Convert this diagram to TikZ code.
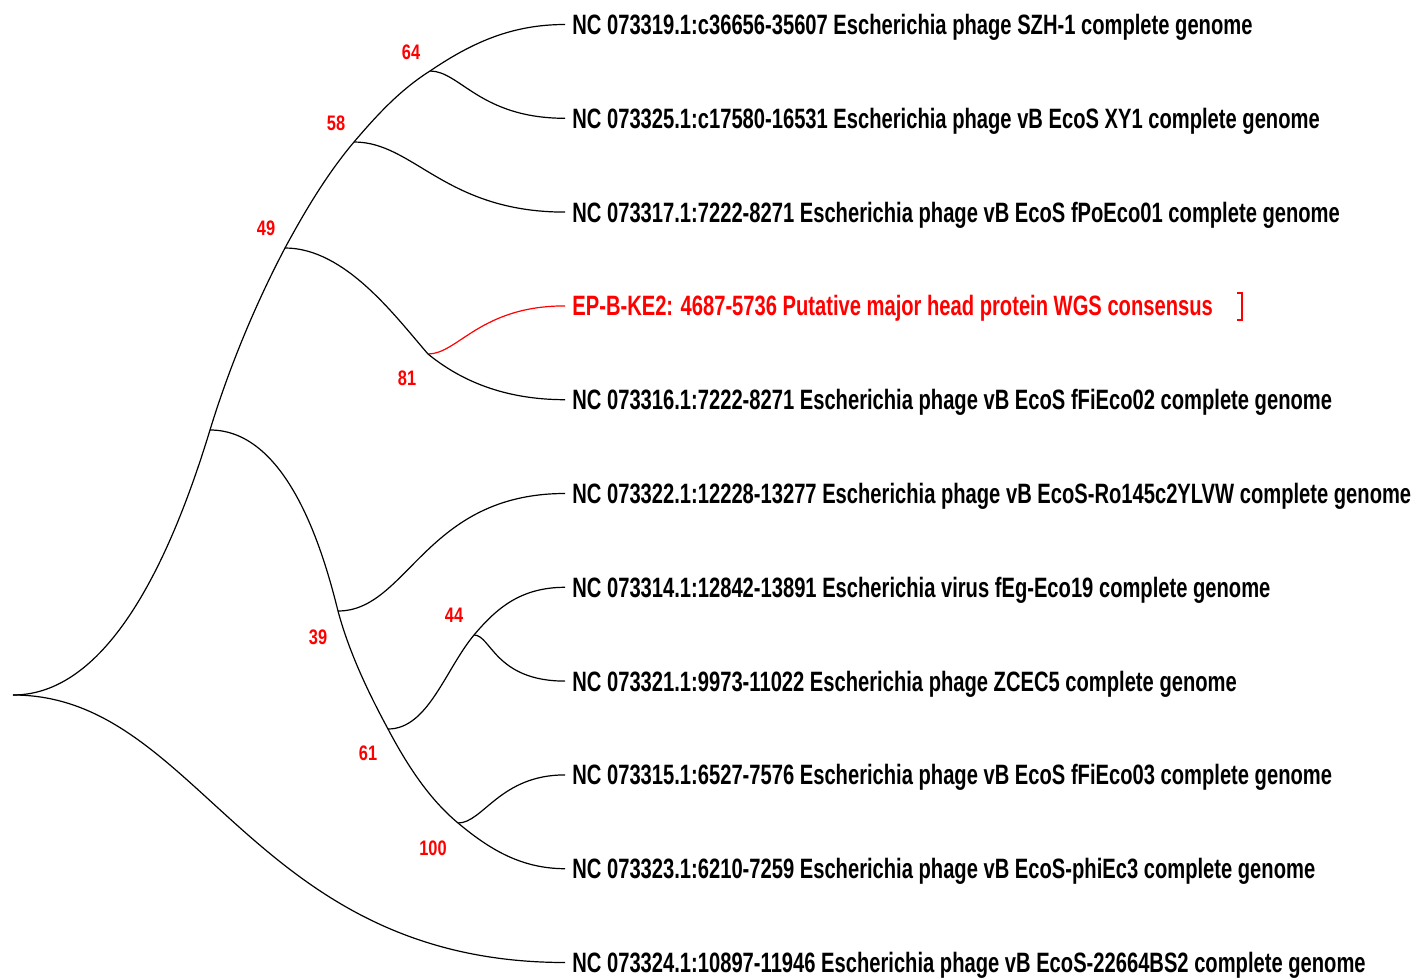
\documentclass[tikz,border=0pt]{standalone}
\usepackage{fontspec}
\newfontfamily\leaffont[FakeStretch=0.72]{Liberation Sans}
\newfontfamily\bootfont[FakeStretch=0.78]{Liberation Sans}
\usetikzlibrary{calc}

\begin{document}
\begin{tikzpicture}[
  x=0.5pt, y=-0.5pt,
  br/.style={draw=black, line width=0.6pt},
  brred/.style={draw=red, line width=0.6pt},
  leaf/.style={anchor=west, inner xsep=3.5pt, inner ysep=0pt,
               text height=10pt, text depth=0pt,
               font=\leaffont\bfseries\fontsize{14}{16}\selectfont},
  boot/.style={text=red, inner sep=0pt,
               font=\bootfont\bfseries\fontsize{10.5}{12}\selectfont}
]
\useasboundingbox (0,0) rectangle (1424,978);

% ---------------------------------------------- internal nodes
\coordinate (root) at (13,695);
\coordinate (n1)   at (210,430);
\coordinate (n49)  at (285,248);
\coordinate (n58)  at (354,142);
\coordinate (n64)  at (430,71);
\coordinate (n81)  at (428,354);
\coordinate (n39)  at (338,611);
\coordinate (n61)  at (388,729);
\coordinate (n44)  at (474,635);
\coordinate (n100) at (458,823);

% ---------------------------------------------- leaves
\node[leaf] (l1)  at (565, 24.5) {NC 073319.1:c36656-35607 Escherichia phage SZH-1 complete genome};
\node[leaf] (l2)  at (565,118.3) {NC 073325.1:c17580-16531 Escherichia phage vB EcoS XY1 complete genome};
\node[leaf] (l3)  at (565,212.1) {NC 073317.1:7222-8271 Escherichia phage vB EcoS fPoEco01 complete genome};
\node[leaf, text=red] (l4) at (565,305.9) {EP-B-KE2: 4687-5736 Putative major head protein WGS consensus};
\node[leaf] (l5)  at (565,399.7) {NC 073316.1:7222-8271 Escherichia phage vB EcoS fFiEco02 complete genome};
\node[leaf] (l6)  at (565,493.5) {NC 073322.1:12228-13277 Escherichia phage vB EcoS-Ro145c2YLVW complete genome};
\node[leaf] (l7)  at (565,587.3) {NC 073314.1:12842-13891 Escherichia virus fEg-Eco19 complete genome};
\node[leaf] (l8)  at (565,681.1) {NC 073321.1:9973-11022 Escherichia phage ZCEC5 complete genome};
\node[leaf] (l9)  at (565,774.9) {NC 073315.1:6527-7576 Escherichia phage vB EcoS fFiEco03 complete genome};
\node[leaf] (l10) at (565,868.7) {NC 073323.1:6210-7259 Escherichia phage vB EcoS-phiEc3 complete genome};
\node[leaf] (l11) at (565,962.5) {NC 073324.1:10897-11946 Escherichia phage vB EcoS-22664BS2 complete genome};

% ---------------------------------------------- branches
\draw[br] (root) .. controls +(100,0) and +(-35,115) .. (n1);
\draw[br] (root) .. controls +(187,0) and +(-315,0) .. (l11.west);

\draw[br] (n1)  .. controls +(19,-62) and +(-30,57) .. (n49);
\draw[br] (n49) .. controls +(20,-37) and +(-27,32) .. (n58);
\draw[br] (n58) .. controls +(23,-27) and +(-30,19) .. (n64);
\draw[br] (n64) .. controls +(40,-27) and +(-55,0)  .. (l1.west);
\draw[br] (n64) .. controls +(30,0)   and +(-85,0)  .. (l2.west);
\draw[br] (n58) .. controls +(60,0)   and +(-120,0) .. (l3.west);
\draw[br] (n49) .. controls +(60,0)   and +(-33,-38) .. (n81);
\draw[brred] (n81) .. controls +(30,0) and +(-85,0) .. (l4.west);
\draw[br] (n81) .. controls +(33,27)  and +(-60,0)  .. (l5.west);

\draw[br] (n1)  .. controls +(80,0)   and +(-13,-52) .. (n39);
\draw[br] (n39) .. controls +(70,0)   and +(-140,0) .. (l6.west);
\draw[br] (n39) .. controls +(11,41)  and +(-20,-37) .. (n61);
\draw[br] (n61) .. controls +(40,0)   and +(-29,35) .. (n44);
\draw[br] (n44) .. controls +(22,-26) and +(-45,0)  .. (l7.west);
\draw[br] (n44) .. controls +(17,0)   and +(-70,0)  .. (l8.west);
\draw[br] (n61) .. controls +(18,34)  and +(-30,-25) .. (n100);
\draw[br] (n100) .. controls +(25,0)  and +(-65,0)  .. (l9.west);
\draw[br] (n100) .. controls +(30,25) and +(-45,0)  .. (l10.west);

% ---------------------------------------------- bootstrap values
\node[boot] (b64)  at (411, 52) {64};
\node[boot] (b58)  at (336,123) {58};
\node[boot] (b49)  at (266,228) {49};
\node[boot] (b81)  at (407,378) {81};
\node[boot] (b39)  at (318,637) {39};
\node[boot] (b44)  at (454,615) {44};
\node[boot] (b61)  at (368,753) {61};
\node[boot] (b100) at (433,848) {100};

% ---------------------------------------------- marker
\draw[brred] (1237,293) -- (1242,293) -- (1242,320) -- (1237,320);

\end{tikzpicture}
\end{document}
